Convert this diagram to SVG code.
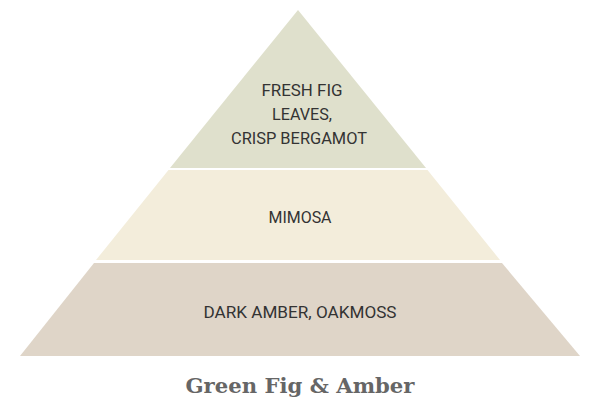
<svg xmlns="http://www.w3.org/2000/svg" width="600" height="408" viewBox="0 0 600 408">
<style>
.l{font-family:"Roboto","Liberation Sans",sans-serif;font-size:16px;fill:#333;text-anchor:middle}
.t{font-family:"DejaVu Serif","Liberation Serif",serif;font-weight:bold;font-size:20px;fill:#666;text-anchor:middle}
</style>
<rect width="600" height="408" fill="#fff"/>
<g id="top"><polygon points="298,10 426,168 170,168" fill="#dfe0cc"/>
<text class="l" x="302" y="96" textLength="81" lengthAdjust="spacingAndGlyphs">FRESH FIG</text><text class="l" x="302" y="120" textLength="60" lengthAdjust="spacingAndGlyphs">LEAVES,</text><text class="l" x="299" y="144" textLength="136" lengthAdjust="spacingAndGlyphs">CRISP BERGAMOT</text></g>
<g id="middle"><polygon points="168.5,170 427.5,170 500,260 96,260" fill="#f3eddb"/>
<text class="l" x="300" y="223" textLength="63" lengthAdjust="spacingAndGlyphs">MIMOSA</text></g>
<g id="bottom"><polygon points="94,263 502,263 580,356 20,356" fill="#dfd5c8"/>
<text class="l" x="300" y="318" textLength="193" lengthAdjust="spacingAndGlyphs">DARK AMBER, OAKMOSS</text></g>
<g id="connectors"></g>
<text class="t" x="300" y="393" textLength="229" lengthAdjust="spacingAndGlyphs">Green Fig &amp; Amber</text>
</svg>
